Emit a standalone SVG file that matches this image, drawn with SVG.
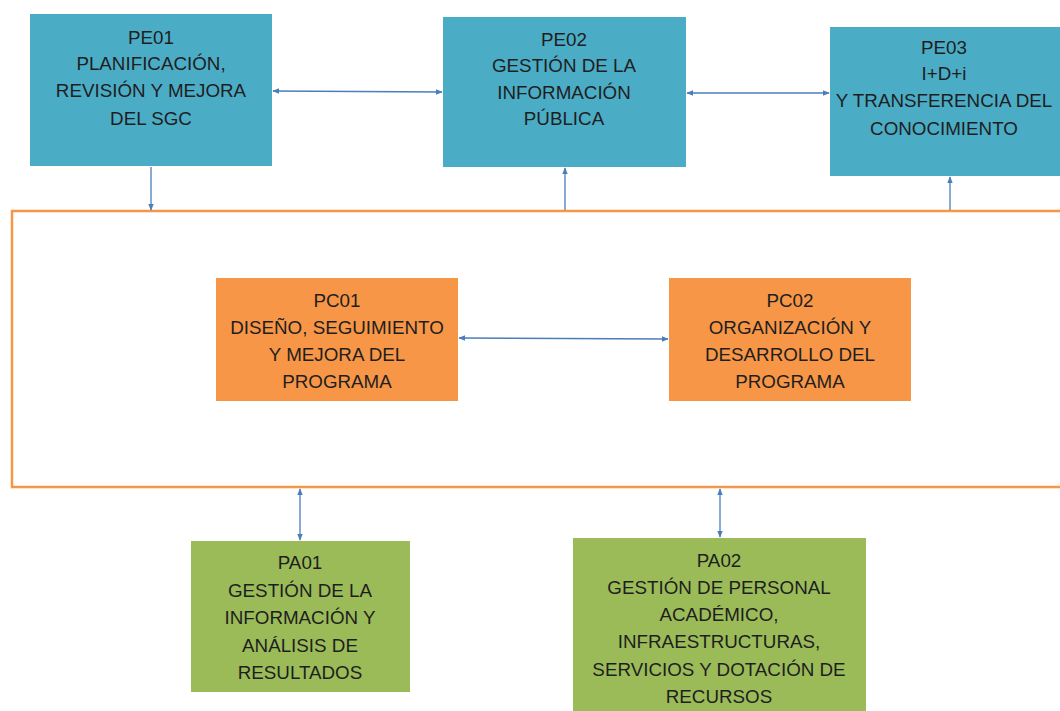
<svg xmlns="http://www.w3.org/2000/svg" width="1060" height="711" viewBox="0 0 1060 711">
<style>
.pe{fill:#4BACC6}
.pc{fill:#F79646}
.pa{fill:#9BBB59}
text{font-family:"Liberation Sans",Arial,sans-serif;font-size:18.8px;fill:#1e1e1e;text-anchor:middle;dominant-baseline:central}
.c{stroke:#4A7EBB;stroke-width:1.3;fill:none}
</style>
<defs>
<marker id="ah" viewBox="0 0 10 10" refX="9" refY="5" markerWidth="7" markerHeight="7" orient="auto-start-reverse" markerUnits="userSpaceOnUse">
<path d="M0,1 L10,5 L0,9 z" fill="#4A7EBB"/>
</marker>
</defs>
<rect width="1060" height="711" fill="#fff"/>
<rect id="frame" x="12" y="211" width="1060" height="276" fill="none" stroke="#F79646" stroke-width="2.5"/>
<g id="PE01"><rect class="pe" x="30" y="14" width="242" height="152"/>
<text x="151" y="37">PE01</text><text x="151" y="63">PLANIFICACIÓN,</text><text x="151" y="90">REVISIÓN Y MEJORA</text><text x="151" y="118">DEL SGC</text></g>
<g id="PE02"><rect class="pe" x="443" y="17" width="243" height="150"/>
<text x="564" y="39">PE02</text><text x="564" y="65">GESTIÓN DE LA</text><text x="564" y="92">INFORMACIÓN</text><text x="564" y="118">PÚBLICA</text></g>
<g id="PE03"><rect class="pe" x="830" y="27" width="240" height="149"/>
<text x="944" y="47">PE03</text><text x="944" y="73">I+D+i</text><text x="944" y="100">Y TRANSFERENCIA DEL</text><text x="944" y="128">CONOCIMIENTO</text></g>
<g id="PC01"><rect class="pc" x="216" y="278" width="242" height="123"/>
<text x="337" y="300">PC01</text><text x="337" y="327">DISEÑO, SEGUIMIENTO</text><text x="337" y="354">Y MEJORA DEL</text><text x="337" y="381">PROGRAMA</text></g>
<g id="PC02"><rect class="pc" x="669" y="278" width="242" height="123"/>
<text x="790" y="300">PC02</text><text x="790" y="327">ORGANIZACIÓN Y</text><text x="790" y="354">DESARROLLO DEL</text><text x="790" y="381">PROGRAMA</text></g>
<g id="PA01"><rect class="pa" x="191" y="541" width="219" height="151"/>
<text x="300" y="562">PA01</text><text x="300" y="590">GESTIÓN DE LA</text><text x="300" y="617">INFORMACIÓN Y</text><text x="300" y="645">ANÁLISIS DE</text><text x="300" y="672">RESULTADOS</text></g>
<g id="PA02"><rect class="pa" x="573" y="538" width="293" height="180"/>
<text x="719" y="560">PA02</text><text x="719" y="587">GESTIÓN DE PERSONAL</text><text x="719" y="614">ACADÉMICO,</text><text x="719" y="641">INFRAESTRUCTURAS,</text><text x="719" y="669">SERVICIOS Y DOTACIÓN DE</text><text x="719" y="696">RECURSOS</text></g>
<g id="connectors">
<line class="c" x1="273" y1="91" x2="442" y2="92" marker-start="url(#ah)" marker-end="url(#ah)"/>
<line class="c" x1="687" y1="93" x2="829" y2="93" marker-start="url(#ah)" marker-end="url(#ah)"/>
<line class="c" x1="151" y1="167" x2="151" y2="210" marker-end="url(#ah)"/>
<line class="c" x1="565" y1="210" x2="565" y2="168" marker-end="url(#ah)"/>
<line class="c" x1="950" y1="210" x2="950" y2="177" marker-end="url(#ah)"/>
<line class="c" x1="459" y1="338" x2="668" y2="339" marker-start="url(#ah)" marker-end="url(#ah)"/>
<line class="c" x1="300" y1="489" x2="300" y2="540" marker-start="url(#ah)" marker-end="url(#ah)"/>
<line class="c" x1="720" y1="489" x2="720" y2="537" marker-start="url(#ah)" marker-end="url(#ah)"/>
</g>
</svg>
